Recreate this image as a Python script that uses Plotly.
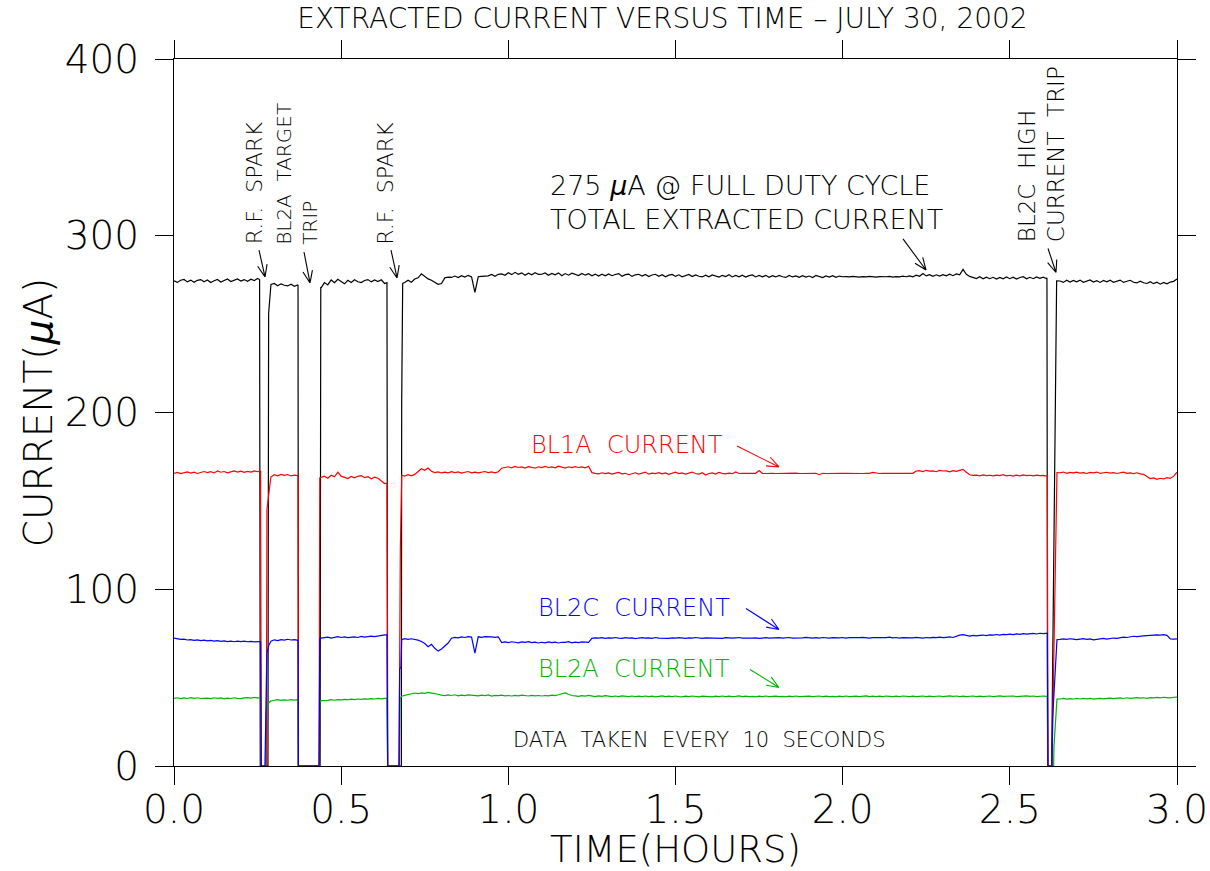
import math
import plotly.graph_objects as go

# Readings on a 0.01 h grid (0.00 ... 3.00 h); None = beam off (trip shape given separately)
GRID_STEP_H = 0.01

TOTAL = [
    274.5, 273.6, 274.8, 275.3, 273.9, 274.9, 273.7, 274.8, 275.2, 274.0,   # 0.0
    275.0, 273.5, 274.5, 275.3, 273.8, 274.7, 275.5, 274.1, 275.0, 275.6,   # 0.1
    274.4, 275.2, 274.2, 275.4, 274.6, 275.8, None, None, None, 272.5,      # 0.2
    273.0, 271.7, 272.8, 272.0, 271.6, 272.6, 271.4, 272.2, None, None,     # 0.3
    None, None, None, None, 270.5, 273.5, 272.2, 275.0, 273.4, 275.4,       # 0.4
    273.9, 272.8, 274.8, 273.6, 275.1, 274.0, 273.5, 274.7, 275.2, 273.9,   # 0.5
    275.0, 274.1, 275.1, 273.0, None, None, None, None, None, 273.5,        # 0.6
    274.8, 273.7, 275.5, 276.2, 278.5, 277.0, 275.6, 274.8, 273.6, 272.5,   # 0.7
    273.0, 276.2, 276.6, 276.4, 277.2, 276.3, 277.4, 276.6, 277.6, 276.7,   # 0.8
    268.0, 276.8, 277.0, 277.0, 277.3, 278.1, 277.1, 278.2, 278.4, 277.6,   # 0.9
    279.1, 278.0, 279.3, 278.2, 279.0, 277.7, 278.8, 277.9, 279.1, 278.1,   # 1.0
    278.2, 278.9, 277.6, 278.7, 277.9, 279.0, 277.4, 278.6, 277.7, 278.8,   # 1.1
    278.0, 277.5, 278.7, 277.7, 278.5, 277.4, 278.3, 277.2, 278.2, 277.3,   # 1.2
    278.4, 277.4, 278.1, 278.6, 277.1, 278.0, 278.3, 277.0, 277.9, 278.2,   # 1.3
    277.2, 278.1, 276.9, 277.8, 278.2, 277.1, 278.0, 276.8, 277.7, 278.1,   # 1.4
    277.0, 277.9, 276.8, 277.6, 278.1, 276.9, 277.8, 277.1, 276.7, 277.7,   # 1.5
    276.8, 277.8, 277.0, 276.6, 277.6, 276.9, 277.9, 276.7, 277.5, 276.8,   # 1.6
    277.7, 276.6, 277.4, 277.8, 276.7, 277.5, 276.8, 277.6, 276.5, 277.4,   # 1.7
    276.7, 277.6, 276.8, 276.4, 277.5, 276.7, 277.3, 276.5, 277.4, 276.6,   # 1.8
    277.2, 276.4, 277.5, 276.7, 276.3, 277.3, 276.6, 277.4, 276.5, 277.2,   # 1.9
    276.8, 276.9, 276.7, 277.0, 276.8, 276.6, 276.9, 276.7, 277.0, 276.8,   # 2.0
    276.6, 276.9, 276.7, 276.8, 277.0, 276.6, 276.9, 276.7, 277.1, 276.8,   # 2.1
    277.3, 276.8, 277.7, 277.1, 278.6, 277.3, 278.0, 277.1, 277.9, 277.2,   # 2.2
    278.0, 277.3, 278.2, 277.4, 278.4, 277.9, 281.0, 278.2, 277.0, 276.4,   # 2.3
    275.8, 276.8, 275.6, 276.6, 275.7, 276.5, 275.5, 276.4, 275.6, 276.7,   # 2.4
    275.7, 276.6, 275.5, 276.4, 276.8, 275.6, 276.5, 275.7, 276.7, 275.9,   # 2.5
    276.6, 275.7, None, None, None, 274.4, 273.6, 274.8, 273.8, 274.7,      # 2.6
    273.9, 274.9, 273.7, 274.5, 275.0, 273.8, 274.6, 273.6, 274.7, 273.9,   # 2.7
    274.8, 273.7, 274.5, 274.9, 273.6, 274.4, 274.8, 273.7, 273.3, 274.3,   # 2.8
    273.4, 273.0, 274.0, 272.9, 273.7, 272.6, 273.6, 272.8, 273.8, 274.2,   # 2.9
    275.5,
]

BL1A = [
    165.6, 166.1, 165.4, 166.0, 166.4, 165.7, 166.2, 165.5, 166.0, 166.6,   # 0.0
    166.0, 166.5, 165.8, 166.9, 166.2, 166.6, 165.9, 166.4, 167.0, 166.3,   # 0.1
    166.8, 166.1, 166.7, 166.3, 167.0, 166.5, None, None, None, 163.5,      # 0.2
    164.8, 164.2, 165.0, 164.4, 164.9, 164.1, 164.6, 164.3, None, None,     # 0.3
    None, None, None, None, 163.2, 164.0, 162.8, 164.5, 163.6, 166.2,       # 0.4
    164.0, 163.3, 162.6, 163.8, 163.0, 163.9, 164.3, 163.2, 163.7, 162.5,   # 0.5
    163.4, 162.8, 161.5, 159.8, None, None, None, None, None, 164.0,        # 0.6
    164.8, 164.2, 165.0, 166.5, 168.2, 167.3, 168.6, 166.8, 166.0, 166.4,   # 0.7
    165.8, 166.3, 165.9, 166.5, 166.0, 166.4, 165.7, 166.2, 166.6, 165.9,   # 0.8
    166.3, 165.8, 166.2, 166.6, 166.0, 166.4, 165.9, 166.5, 168.5, 168.9,   # 0.9
    169.3, 168.7, 169.5, 168.9, 169.2, 168.6, 169.4, 169.0, 168.5, 169.3,   # 1.0
    168.8, 169.5, 168.9, 169.2, 168.7, 169.6, 169.0, 168.6, 169.3, 168.8,   # 1.1
    169.4, 168.9, 169.2, 168.7, 169.6, 166.0, 165.6, 165.3, 165.9, 165.4,   # 1.2
    165.8, 165.2, 165.7, 166.1, 165.3, 165.6, 164.8, 165.5, 165.9, 165.2,   # 1.3
    165.6, 166.3, 165.1, 165.7, 165.4, 166.0, 165.3, 165.8, 165.0, 165.6,   # 1.4
    166.2, 165.4, 165.8, 165.1, 165.7, 166.3, 165.5, 165.2, 165.9, 164.6,   # 1.5
    165.5, 165.8, 165.2, 166.1, 165.6, 165.3, 165.7, 165.4, 166.4, 165.5,   # 1.6
    165.6, 165.6, 165.5, 165.7, 165.6, 167.2, 165.6, 165.5, 165.7, 165.6,   # 1.7
    165.5, 165.6, 165.7, 165.5, 165.6, 165.6, 165.7, 165.5, 165.6, 165.6,   # 1.8
    165.5, 165.6, 165.6, 164.8, 165.6, 165.5, 165.6, 165.7, 165.6, 165.5,   # 1.9
    165.6, 165.6, 165.5, 165.6, 165.7, 165.6, 165.5, 165.6, 165.6, 166.1,   # 2.0
    165.6, 165.5, 165.6, 165.6, 165.7, 165.6, 165.5, 165.6, 165.6, 165.5,   # 2.1
    165.6, 165.6, 166.9, 167.1, 166.6, 167.3, 166.8, 167.0, 166.5, 167.2,   # 2.2
    166.9, 167.0, 166.4, 167.1, 166.7, 167.3, 167.8, 166.2, 164.8, 164.4,   # 2.3
    164.6, 164.2, 164.7, 164.3, 164.5, 164.1, 164.6, 164.3, 164.8, 164.2,   # 2.4
    164.5, 164.0, 164.6, 164.2, 164.7, 164.3, 164.5, 164.1, 164.6, 164.3,   # 2.5
    164.4, 164.0, None, None, None, 165.9, 166.3, 165.6, 166.1, 165.8,      # 2.6
    166.2, 165.7, 166.0, 165.5, 166.1, 165.8, 166.3, 165.6, 165.9, 166.2,   # 2.7
    165.7, 166.0, 165.5, 165.9, 166.2, 165.6, 165.8, 165.4, 165.9, 165.3,   # 2.8
    165.0, 163.8, 162.6, 163.0, 162.2, 162.8, 162.4, 163.1, 162.7, 164.0,   # 2.9
    166.2,
]

BL2C = [
    72.4, 72.0, 71.6, 71.8, 71.3, 71.5, 71.1, 71.4, 70.9, 71.2,   # 0.0
    70.8, 71.1, 70.7, 70.9, 70.5, 70.8, 70.4, 70.7, 70.3, 70.6,   # 0.1
    70.4, 70.7, 70.3, 70.5, 70.2, 70.4, None, None, None, 70.6,   # 0.2
    71.4, 71.0, 71.5, 71.2, 71.7, 71.3, 71.5, 71.1, None, None,   # 0.3
    None, None, None, None, 72.2, 72.6, 72.9, 72.4, 72.8, 73.2,   # 0.4
    72.7, 73.0, 72.6, 72.9, 73.1, 72.7, 73.3, 72.9, 73.2, 73.5,   # 0.5
    73.2, 73.6, 73.9, 74.2, None, None, None, None, None, 72.0,   # 0.6
    71.6, 72.0, 71.7, 71.2, 70.4, 69.3, 67.5, 68.8, 66.6, 65.0,   # 0.7
    66.2, 68.0, 69.6, 72.3, 72.8, 72.5, 73.0, 72.7, 73.2, 72.9,   # 0.8
    63.8, 73.1, 72.8, 73.2, 72.9, 73.0, 72.8, 73.1, 69.8, 70.2,   # 0.9
    69.8, 70.3, 70.0, 69.7, 70.2, 69.9, 70.4, 69.8, 70.1, 69.6,   # 1.0
    70.0, 69.7, 70.2, 69.8, 70.1, 69.6, 70.0, 69.9, 70.3, 69.7,   # 1.1
    70.1, 69.8, 70.2, 69.9, 70.0, 72.2, 72.5, 72.3, 72.6, 72.2,   # 1.2
    72.5, 72.3, 72.7, 72.4, 72.2, 72.6, 72.3, 72.5, 72.1, 72.4,   # 1.3
    72.6, 72.3, 72.5, 72.2, 72.7, 72.4, 72.3, 72.6, 72.2, 72.5,   # 1.4
    72.3, 72.6, 72.4, 72.2, 72.5, 72.3, 72.7, 72.4, 72.2, 72.5,   # 1.5
    72.4, 72.6, 72.3, 72.5, 72.2, 72.6, 72.4, 72.3, 72.5, 72.7,   # 1.6
    72.4, 72.3, 72.6, 72.4, 72.5, 72.2, 72.4, 72.6, 72.3, 72.5,   # 1.7
    72.4, 72.6, 72.3, 72.5, 72.7, 72.4, 72.3, 72.6, 72.5, 72.8,   # 1.8
    72.5, 72.3, 72.6, 72.4, 72.7, 72.5, 72.3, 72.6, 72.4, 72.5,   # 1.9
    72.7, 72.4, 72.6, 72.5, 72.3, 72.6, 72.8, 72.5, 72.4, 72.6,   # 2.0
    72.5, 72.7, 72.4, 72.6, 72.9, 72.5, 72.7, 72.4, 72.6, 72.5,   # 2.1
    72.7, 72.5, 72.8, 72.6, 72.4, 72.7, 72.5, 72.8, 72.6, 72.9,   # 2.2
    72.6, 72.8, 73.0, 72.7, 73.4, 74.0, 74.3, 73.8, 73.5, 73.9,   # 2.3
    73.6, 73.9, 74.1, 73.8, 74.2, 74.0, 74.4, 74.1, 74.5, 74.3,   # 2.4
    74.6, 74.3, 74.7, 74.5, 74.9, 74.6, 74.8, 75.0, 74.7, 75.1,   # 2.5
    74.9, 75.2, None, None, None, 71.6, 71.9, 71.7, 72.0, 71.8,   # 2.6
    71.5, 71.8, 72.1, 71.7, 71.9, 71.4, 71.7, 71.9, 72.2, 71.8,   # 2.7
    72.1, 72.4, 72.2, 72.6, 72.9, 72.7, 73.1, 73.4, 73.2, 73.6,   # 2.8
    73.6, 73.8, 74.0, 73.8, 74.2, 74.1, 74.3, 73.9, 71.9, 71.8,   # 2.9
    71.9,
]

BL2A = [
    38.3, 38.6, 38.1, 38.5, 38.2, 38.7, 38.3, 38.6, 38.2, 38.5,   # 0.0
    38.4, 38.1, 38.6, 38.3, 38.5, 38.0, 38.4, 38.2, 38.6, 38.3,   # 0.1
    38.1, 38.5, 38.7, 38.4, 38.8, 38.5, None, None, None, 36.8,   # 0.2
    37.2, 37.5, 37.1, 37.4, 37.2, 37.6, 37.3, 37.5, None, None,   # 0.3
    None, None, None, None, 36.9, 37.3, 37.1, 37.5, 37.2, 37.6,   # 0.4
    37.4, 37.7, 37.5, 37.8, 37.6, 37.9, 37.7, 38.0, 37.8, 38.1,   # 0.5
    37.9, 38.2, 38.0, 38.3, None, None, None, None, None, 40.0,   # 0.6
    40.4, 41.0, 41.3, 40.9, 41.4, 41.1, 41.6, 41.2, 41.0, 40.6,   # 0.7
    40.1, 39.8, 40.2, 39.9, 40.3, 39.7, 40.1, 39.8, 40.2, 39.9,   # 0.8
    40.0, 39.7, 40.1, 39.8, 40.2, 39.6, 40.0, 39.8, 40.1, 39.7,   # 0.9
    39.9, 39.6, 40.0, 39.7, 40.1, 39.8, 39.6, 40.0, 39.7, 39.9,   # 1.0
    39.6, 39.9, 39.7, 40.1, 39.8, 40.3, 41.0, 41.4, 40.6, 39.9,   # 1.1
    39.7, 39.4, 39.8, 39.5, 39.9, 39.6, 39.3, 39.7, 39.4, 39.8,   # 1.2
    39.5, 39.2, 39.6, 39.3, 39.7, 39.4, 39.2, 39.6, 39.3, 39.5,   # 1.3
    39.2, 39.6, 39.3, 39.5, 39.1, 39.4, 39.7, 39.3, 39.5, 39.2,   # 1.4
    39.6, 39.3, 39.1, 39.5, 39.2, 39.6, 39.4, 39.1, 39.5, 39.3,   # 1.5
    39.4, 39.1, 39.5, 39.2, 39.6, 39.3, 39.5, 39.2, 39.4, 39.7,   # 1.6
    39.3, 39.5, 39.2, 39.4, 39.1, 39.5, 39.3, 39.6, 39.2, 39.4,   # 1.7
    39.5, 39.2, 39.4, 39.1, 39.5, 39.3, 39.6, 39.2, 39.4, 39.3,   # 1.8
    39.5, 39.2, 39.4, 39.6, 39.3, 39.5, 39.2, 39.4, 39.1, 39.5,   # 1.9
    39.3, 39.6, 39.2, 39.4, 39.5, 39.2, 39.4, 39.7, 39.3, 39.5,   # 2.0
    39.2, 39.5, 39.3, 39.6, 39.4, 39.2, 39.5, 39.3, 39.6, 39.4,   # 2.1
    39.3, 39.5, 39.2, 39.4, 39.6, 39.3, 39.5, 39.2, 39.4, 39.6,   # 2.2
    39.3, 39.5, 39.7, 39.4, 39.6, 39.3, 39.5, 39.2, 39.4, 39.6,   # 2.3
    39.3, 39.5, 39.2, 39.4, 39.6, 39.3, 39.5, 39.7, 39.4, 39.5,   # 2.4
    39.2, 39.6, 39.3, 39.5, 39.4, 39.7, 39.4, 39.6, 39.3, 39.5,   # 2.5
    39.6, 39.4, None, None, None, 37.9, 38.2, 37.8, 38.1, 37.9,   # 2.6
    38.2, 37.9, 38.3, 38.0, 38.2, 37.8, 38.1, 38.3, 38.0, 38.2,   # 2.7
    38.4, 38.1, 38.3, 38.5, 38.2, 38.6, 38.3, 38.5, 38.7, 38.4,   # 2.8
    38.6, 38.3, 38.7, 38.5, 38.8, 38.6, 38.9, 38.7, 38.5, 38.9,   # 2.9
    39.0,
]

# Trip / recovery readings (hours, microamps) between grid steps
TOTAL_TRIPS = [
    (0.256, 275.2), (0.258, 0.0), (0.281, 0.0), (0.283, 256.0),
    (0.371, 272.0), (0.372, 0.0), (0.437, 0.0), (0.439, 271.0),
    (0.637, 273.5), (0.639, 0.0), (0.680, 0.0), (0.681, 205.0), (0.684, 273.0),
    (2.611, 276.2), (2.613, 0.0), (2.625, 0.0), (2.640, 274.5),
]
BL1A_TRIPS = [
    (0.259, 166.8), (0.261, 0.0), (0.276, 0.0), (0.278, 145.0), (0.283, 155.0), (0.289, 162.5),
    (0.371, 164.0), (0.372, 0.0), (0.434, 0.0), (0.436, 163.0),
    (0.637, 160.0), (0.639, 0.0), (0.673, 0.0), (0.675, 122.0), (0.677, 123.0), (0.681, 164.5),
    (2.612, 164.2), (2.614, 0.0), (2.626, 0.0), (2.641, 166.0),
]
BL2C_TRIPS = [
    (0.259, 70.4), (0.261, 0.0), (0.272, 0.0), (0.278, 64.0), (0.284, 68.5), (0.289, 70.2),
    (0.371, 71.1), (0.372, 0.0), (0.434, 0.0), (0.436, 72.2),
    (0.637, 74.2), (0.639, 0.0), (0.673, 0.0), (0.675, 55.0), (0.679, 56.0), (0.681, 71.5),
    (2.612, 75.2), (2.614, 0.0), (2.626, 0.0), (2.628, 27.0), (2.641, 71.5),
]
BL2A_TRIPS = [
    (0.259, 38.5), (0.261, 0.0), (0.274, 0.0), (0.276, 30.0), (0.282, 35.5), (0.289, 36.8),
    (0.371, 37.5), (0.372, 0.0), (0.434, 0.0), (0.436, 36.9),
    (0.637, 38.3), (0.639, 0.0), (0.674, 0.0), (0.676, 38.0), (0.681, 39.5),
    (2.612, 39.5), (2.614, 0.0), (2.631, 0.0), (2.632, 11.0), (2.641, 37.8),
]

X_TICKS = [0.0, 0.5, 1.0, 1.5, 2.0, 2.5, 3.0]
Y_TICKS = [0, 100, 200, 300, 400]

FONT = "DejaVu Sans"
BLACK, RED, BLUE, GREEN = "#000000", "#ff0000", "#0000ff", "#00b400"

W, H = 1210, 871
ML, MR, MT, MB = 174, 33, 59, 105
X_RANGE, Y_RANGE = (0.0, 3.0), (0.0, 400.0)


def series(grid, trips):
    pts = [(round(i * GRID_STEP_H, 3), v) for i, v in enumerate(grid) if v is not None]
    pts += trips
    pts.sort(key=lambda p: p[0])
    return [p[0] for p in pts], [p[1] for p in pts]


fig = go.Figure()
for name, grid, trips, color in [
    ("TOTAL", TOTAL, TOTAL_TRIPS, BLACK),
    ("BL2A", BL2A, BL2A_TRIPS, GREEN),
    ("BL1A", BL1A, BL1A_TRIPS, RED),
    ("BL2C", BL2C, BL2C_TRIPS, BLUE),
]:
    xs, ys = series(grid, trips)
    fig.add_trace(go.Scatter(x=xs, y=ys, mode="lines", name=name,
                             line=dict(color=color, width=1.2), hoverinfo="skip"))

# pixel scale of the plotting area, used to draw open "V" arrow heads
px_per_x = (W - ML - MR) / (X_RANGE[1] - X_RANGE[0])
px_per_y = (H - MT - MB) / (Y_RANGE[1] - Y_RANGE[0])


def arrow(tail, tip, color, head=13, spread=0.38):
    dx = (tip[0] - tail[0]) * px_per_x
    dy = (tip[1] - tail[1]) * px_per_y
    ang = math.atan2(dy, dx)
    parts = [f"M{tail[0]},{tail[1]} L{tip[0]},{tip[1]}"]
    for s in (spread, -spread):
        bx = tip[0] - head * math.cos(ang + s) / px_per_x
        by = tip[1] - head * math.sin(ang + s) / px_per_y
        parts.append(f"M{bx},{by} L{tip[0]},{tip[1]}")
    fig.add_shape(type="path", path=" ".join(parts), xref="x", yref="y",
                  line=dict(color=color, width=1.1))


arrow((0.2542, 291.9), (0.2722, 276.7), BLACK)
arrow((0.3888, 290.8), (0.4068, 273.3), BLACK)
arrow((0.6491, 291.9), (0.6671, 276.1), BLACK)
arrow((2.6142, 292.8), (2.6381, 279.2), BLACK)
arrow((2.1805, 298.2), (2.2493, 280.6), BLACK)
arrow((1.6839, 181.0), (1.8095, 169.2), RED)
arrow((1.7108, 89.1), (1.8095, 77.2), BLUE)
arrow((1.7228, 54.6), (1.8095, 44.4), GREEN)


def label(x, y, text, color=BLACK, size=25, angle=0, xanchor="left", yanchor="middle"):
    fig.add_annotation(x=x, y=y, xref="x", yref="y", text=text, showarrow=False,
                       textangle=angle, xanchor=xanchor, yanchor=yanchor, align="left",
                       borderpad=0,
                       font=dict(family=FONT, size=size, color=color, weight=200))


label(1.122, 328.4, "275 <i>μ</i>A @ FULL DUTY CYCLE", size=27)
label(1.122, 309.4, "TOTAL EXTRACTED CURRENT", size=27)
label(1.065, 181.6, "BL1A  CURRENT", RED, 24)
label(1.086, 89.4, "BL2C  CURRENT", BLUE, 24)
label(1.086, 54.9, "BL2A  CURRENT", GREEN, 24)
label(1.011, 14.7, "DATA  TAKEN  EVERY  10  SECONDS", size=21)

# vertical event notes above the trips
label(0.2394, 294.3, "R.F.  SPARK", size=22, angle=-90, xanchor="center", yanchor="bottom")
label(0.3680, 294.3, "BL2A  TARGET<br>TRIP", size=20, angle=-90, xanchor="center", yanchor="bottom")
label(0.6326, 294.3, "R.F.  SPARK", size=22, angle=-90, xanchor="center", yanchor="bottom")
label(2.5943, 296.0, "BL2C  HIGH<br>CURRENT  TRIP", size=23, angle=-90, xanchor="center", yanchor="bottom")

axis_font = dict(family=FONT, size=39, color=BLACK, weight=200)
common = dict(showline=True, linecolor=BLACK, linewidth=1, mirror="ticks",
              ticks="outside", ticklen=18, tickwidth=1, tickcolor=BLACK,
              showgrid=False, zeroline=False, tickfont=axis_font, automargin=False)

fig.update_layout(
    width=W, height=H,
    margin=dict(l=ML, r=MR, t=MT, b=MB, autoexpand=False),
    paper_bgcolor="white", plot_bgcolor="white",
    showlegend=False,
    title=dict(text="EXTRACTED CURRENT VERSUS TIME – JULY 30, 2002",
               x=0.487, xref="paper", y=0.979, yref="container",
               xanchor="center", yanchor="middle",
               font=dict(family=FONT, size=28, color=BLACK, weight=200)),
    xaxis=dict(range=list(X_RANGE), tickvals=X_TICKS,
               ticktext=[f"{v:.1f}" for v in X_TICKS], ticklabelstandoff=-9,
               title=dict(text="TIME(HOURS)",
                          font=dict(family=FONT, size=37, color=BLACK, weight=200),
                          standoff=12),
               **common),
    yaxis=dict(range=list(Y_RANGE), tickvals=Y_TICKS,
               ticktext=[str(v) for v in Y_TICKS], ticklabelstandoff=8,
               title=dict(text="CURRENT(<i>μ</i>A)",
                          font=dict(family=FONT, size=39, color=BLACK, weight=200),
                          standoff=0),
               **common),
)

fig.write_html("out.html")
